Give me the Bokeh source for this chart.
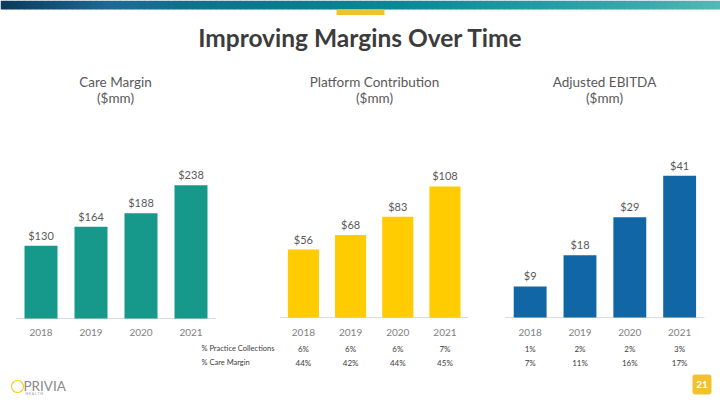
from bokeh.plotting import figure
from bokeh.models import Range1d, ColumnDataSource
from bokeh.core.properties import value
from bokeh.embed import file_html
from bokeh.resources import INLINE

# ---------------- data ----------------
years = ["2018", "2019", "2020", "2021"]
care_margin = [130, 164, 188, 238]
platform_contribution = [56, 68, 83, 108]
adjusted_ebitda = [9, 18, 29, 41]
row_labels = ["% Practice Collections", "% Care Margin"]
pc_pct_collections = ["6%", "6%", "6%", "7%"]
pc_pct_care_margin = ["44%", "42%", "44%", "45%"]
eb_pct_collections = ["1%", "2%", "2%", "3%"]
eb_pct_care_margin = ["7%", "11%", "16%", "17%"]
panel_titles = ["Care Margin", "Platform Contribution", "Adjusted EBITDA"]
main_title = "Improving Margins Over Time"

# ---------------- canvas ----------------
W, H = 720, 405
p = figure(width=W, height=H, x_range=Range1d(0, 720), y_range=Range1d(405, 0),
           output_backend="svg", toolbar_location=None, min_border=0,
           x_axis_location=None, y_axis_location=None)
p.grid.visible = False
p.outline_line_color = None
p.background_fill_color = "white"
p.border_fill_color = "white"

FONT = value("Lato")
GRAY = "#595959"

# banner gradient (decoration)
stops = [(0, (12, 58, 90)), (60, (22, 84, 122)), (110, (31, 106, 150)),
         (180, (18, 112, 140)), (300, (11, 125, 142)), (420, (15, 138, 150)),
         (560, (42, 158, 166)), (650, (63, 169, 173)), (720, (88, 184, 181))]
def interp(x):
    for (x0, c0), (x1, c1) in zip(stops[:-1], stops[1:]):
        if x0 <= x <= x1:
            t = (x - x0) / (x1 - x0)
            return "#%02x%02x%02x" % tuple(int(a + (b - a) * t) for a, b in zip(c0, c1))
    return "#%02x%02x%02x" % stops[-1][1]
lefts = list(range(0, 720, 6))
p.quad(left=lefts, right=[l + 6.5 for l in lefts], top=0, bottom=9,
       fill_color=[interp(l + 3) for l in lefts], line_color=None)
p.quad(left=336, right=384, top=9, bottom=14.5, fill_color="#f2c12e", line_color=None)

p.text(x=[360], y=[37], text=[main_title], text_font=FONT, text_font_style="bold",
       text_font_size="24.5px", text_color="#3c3c3c", text_align="center",
       text_baseline="middle")

# ---------------- panels ----------------
panels = [
    dict(name="p1", xr=(-0.81, 13.59), yr=(-155.4, 567.9), vals=care_margin,
         color="#16998a", tx=115),
    dict(name="p2", xr=(-6.42, 8.84), yr=(-72.5, 261.3), vals=platform_contribution,
         color="#fecc00", tx=374),
    dict(name="p3", xr=(-10.63, 3.82), yr=(-25.4, 91.6), vals=adjusted_ebitda,
         color="#1166a6", tx=604),
]
p.extra_x_ranges = {d["name"]: Range1d(*d["xr"]) for d in panels}
p.extra_y_ranges = {d["name"]: Range1d(*d["yr"]) for d in panels}

idx = list(range(len(years)))
for d, title in zip(panels, panel_titles):
    n = d["name"]
    src = ColumnDataSource(dict(x=idx, v=d["vals"], lab=["$%d" % v for v in d["vals"]],
                                yr=years))
    p.segment(x0=-0.5, x1=3.5, y0=0, y1=0, x_range_name=n, y_range_name=n,
              line_color="#d9d9d9", line_width=1)
    p.vbar(x="x", top="v", bottom=0, width=0.66, source=src, x_range_name=n,
           y_range_name=n, fill_color=d["color"], line_color=None)
    p.text(x="x", y="v", text="lab", source=src, x_range_name=n, y_range_name=n,
           text_font=FONT, text_font_size="11px", text_color=GRAY,
           text_align="center", text_baseline="bottom", y_offset=-4)
    p.text(x="x", y=332, text="yr", source=src, x_range_name=n,
           text_font=FONT, text_font_size="10px", text_color="#7f7f7f",
           text_align="center", text_baseline="middle")
    p.text(x=[d["tx"], d["tx"]], y=[81, 97.5], text=[title, "($mm)"],
           text_font=FONT, text_font_size="13.5px", text_color=GRAY,
           text_align="center", text_baseline="middle")

# table rows
p.text(x=[201, 201], y=[348, 362], text=row_labels, text_font=FONT,
       text_font_size="7.5px", text_color="#404040", text_align="left",
       text_baseline="middle")
for n, r1, r2 in [("p2", pc_pct_collections, pc_pct_care_margin),
                  ("p3", eb_pct_collections, eb_pct_care_margin)]:
    p.text(x=idx, y=[348] * 4, text=r1, x_range_name=n, text_font=FONT,
           text_font_size="8px", text_color="#404040", text_align="center",
           text_baseline="middle")
    p.text(x=idx, y=[362] * 4, text=r2, x_range_name=n, text_font=FONT,
           text_font_size="8px", text_color="#404040", text_align="center",
           text_baseline="middle")

# logo
p.circle(x=[17], y=[386], radius=6, fill_color=None, line_color="#f5d020",
         line_width=1.2)
p.text(x=[23], y=[385], text=["PRIVIA"], text_font=FONT, text_font_size="13.5px",
       text_color="#8a8a8a", text_align="left", text_baseline="middle")
p.text(x=[25], y=[393], text=["H E A L T H"], text_font=FONT, text_font_size="3.5px",
       text_color="#9a9a9a", text_align="left", text_baseline="middle")

# page number
p.quad(left=692, right=711, top=374, bottom=394, fill_color="#f2c12e",
       line_color=None, border_radius=3)
p.text(x=[701.5], y=[384], text=["21"], text_font=FONT, text_font_style="bold",
       text_font_size="10px", text_color="white", text_align="center",
       text_baseline="middle")

open("out.html", "w").write(file_html(p, INLINE))
